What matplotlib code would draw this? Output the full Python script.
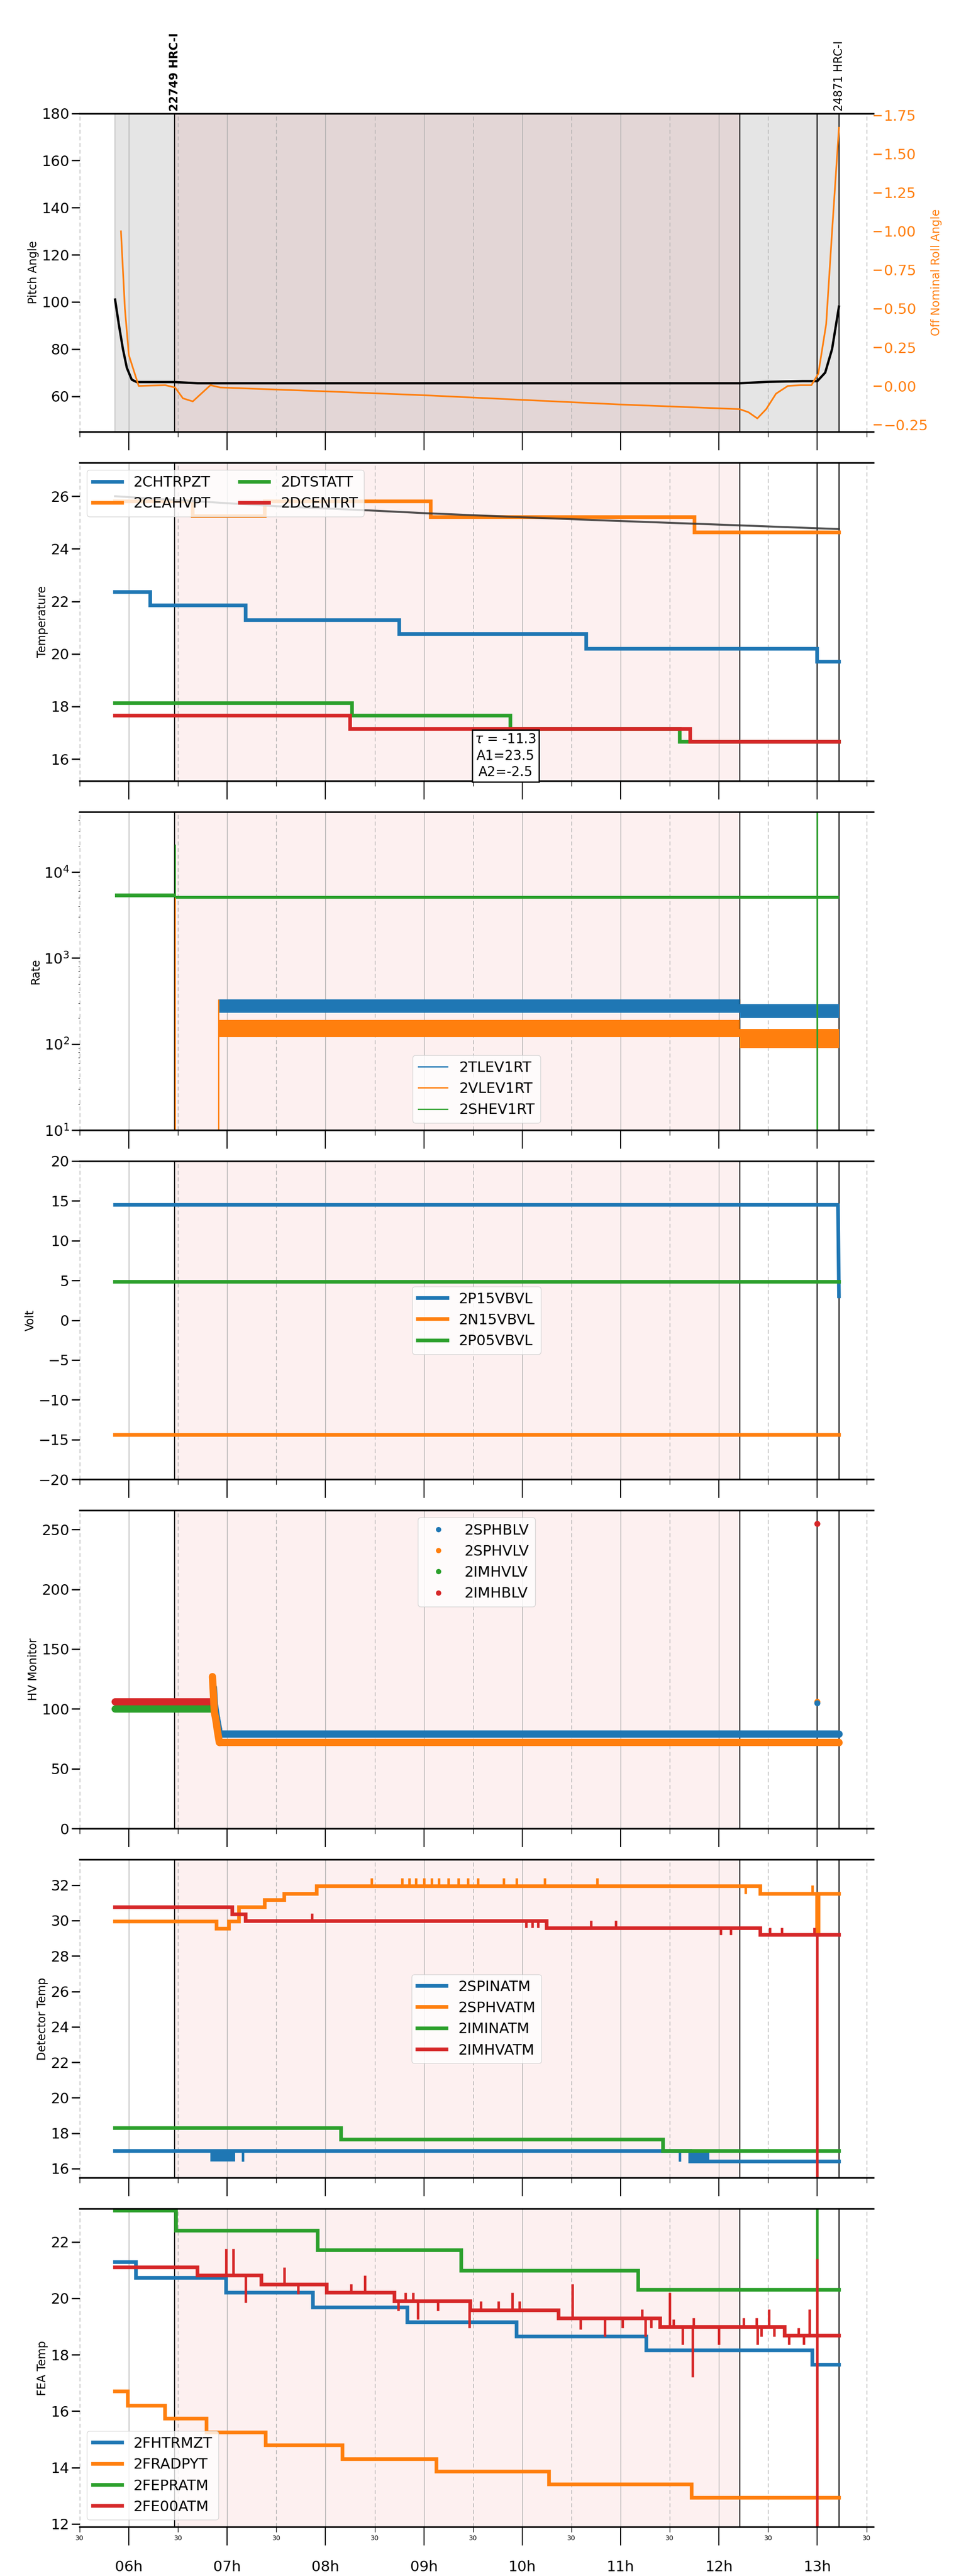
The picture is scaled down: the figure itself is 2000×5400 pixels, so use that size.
import numpy as np
import matplotlib
matplotlib.use("Agg")
import matplotlib.pyplot as plt
from matplotlib.lines import Line2D
from matplotlib.ticker import FixedLocator, FuncFormatter

NARROW = ["Liberation Sans Narrow", "DejaVu Sans"]
plt.rcParams["font.family"] = NARROW
C = {"b": "#1f77b4", "o": "#ff7f0e", "g": "#2ca02c", "r": "#d62728"}

# ---- event times (decimal hours on 2020-11-26) ----
T_START, T_END = 5.86, 13.22
OBS_START, OBS_END = 6.466, 12.21
EXTRA_LINES = [6.466, 12.21, 13.0, 13.22]
OBS_LABELS = [(6.466, "22749 HRC-I", "bold"), (13.22, "24871 HRC-I", "normal")]

# ---- panel 1: pitch / roll ----
pitch_t = [5.86, 5.90, 5.94, 5.98, 6.03, 6.08, 6.466, 6.7, 9.0, 12.21, 12.5, 12.85, 13.0, 13.08, 13.15, 13.22]
pitch_v = [101, 90, 80, 72, 67, 66, 66, 65.5, 65.5, 65.5, 66.1, 66.4, 66.4, 70, 80, 98]
roll_t = [5.92, 5.96, 6.0, 6.1, 6.37, 6.47, 6.55, 6.65, 6.83, 6.93, 8.0, 9.0, 10.0, 11.0, 12.21, 12.30, 12.39, 12.48, 12.58, 12.70, 12.83, 12.94, 13.01, 13.09, 13.15, 13.22]
roll_v = [1.0, 0.5, 0.2, 0.0, 0.005, -0.01, -0.08, -0.10, 0.005, -0.01, -0.035, -0.06, -0.09, -0.12, -0.15, -0.17, -0.21, -0.15, -0.05, 0.0, 0.005, 0.005, 0.08, 0.4, 1.0, 1.67]

# ---- panel 2: temperatures (step series: value holds until next time) ----
fit_t = [5.86, 6.5, 7.5, 8.5, 9.04, 10.0, 10.9, 12.0, 13.22]
fit_v = [26.0, 25.85, 25.62, 25.45, 25.35, 25.2, 25.07, 24.92, 24.75]
chtrpzt_t = [5.86, 6.22, 7.19, 8.75, 10.65, 13.0, 13.22]
chtrpzt_v = [22.35, 21.85, 21.28, 20.75, 20.2, 19.7, 19.7]
ceahvpt_t = [5.86, 6.65, 7.38, 9.07, 11.75, 13.22]
ceahvpt_v = [25.8, 25.25, 25.8, 25.2, 24.62, 24.62]
dtstatt_t = [5.86, 8.27, 9.88, 11.6, 13.22]
dtstatt_v = [18.13, 17.65, 17.15, 16.65, 16.65]
dcentrt_t = [5.86, 8.25, 8.28, 11.71, 13.22]
dcentrt_v = [17.65, 17.15, 17.15, 16.65, 16.65]
fit_text = "$\\tau$ = -11.3\nA1=23.5\nA2=-2.5"

# ---- panel 3: rates (band envelopes) ----
rate_seg_t = [6.91, 12.21, 13.22]
tlev_lo = [230, 200]
tlev_hi = [330, 290]
vlev_lo = [120, 90]
vlev_hi = [190, 150]
shev_seg_t = [5.86, 6.466, 13.22]
shev_lo = [5100, 4900]
shev_hi = [5600, 5300]
shev_spike = (6.47, 21000)
vlev_spike = (6.47, 5000)

# ---- panel 4: voltages ----
volt_t = [5.86, 13.21, 13.22]
p15_v = [14.5, 14.5, 3.0]
n15_v = [-14.4, -14.4, -14.4]
p05_v = [4.8, 4.8, 4.8]

# ---- panel 5: HV monitor ----
imhblv_t = [5.86, 6.86]; imhblv_v = [106, 106]
imhvlv_t = [5.86, 6.86]; imhvlv_v = [100, 100]
sphblv_t = [6.86, 6.87, 6.89, 6.91, 6.92, 13.22]; sphblv_v = [118, 104, 93, 84, 79, 79]
sphvlv_t = [6.85, 6.87, 6.88, 6.89, 6.90, 6.91, 6.92, 13.22]; sphvlv_v = [127, 97, 93, 88, 82, 77, 72, 72]
hv_late = [(13.0, 255, "r"), (13.0, 106, "o"), (13.0, 105, "b")]

# ---- panel 6: detector temps ----
spinatm_t = [5.86, 11.71, 13.22]; spinatm_v = [17.0, 16.4, 16.4]
spinatm_blocks = [(6.83, 7.08), (11.7, 11.9)]
spinatm_spikes = [(7.16, 16.4), (11.6, 16.4)]
sphvatm_t = [5.86, 6.89, 7.02, 7.12, 7.38, 7.58, 7.91, 12.42, 13.0, 13.01, 13.22]
sphvatm_v = [29.95, 29.55, 29.95, 30.75, 31.15, 31.5, 31.95, 31.5, 29.2, 31.5, 31.5]
sphvatm_spikes = [(8.47, 32.4), (8.78, 32.4), (8.85, 32.4), (8.92, 32.4), (9.0, 32.4), (9.08, 32.4),
                  (9.15, 32.4), (9.25, 32.4), (9.35, 32.4), (9.45, 32.4), (9.55, 32.4), (9.81, 32.4),
                  (9.94, 32.4), (10.23, 32.4), (10.76, 32.4), (12.27, 31.5), (12.95, 32.0)]
iminatm_t = [5.86, 8.16, 11.43, 13.22]; iminatm_v = [18.3, 17.65, 17.0, 17.0]
imhvatm_t = [5.86, 7.05, 7.19, 10.25, 12.42, 13.22]; imhvatm_v = [30.75, 30.35, 29.98, 29.58, 29.2, 29.2]
imhvatm_spikes = [(7.86, 30.4), (10.04, 29.6), (10.1, 29.6), (10.16, 29.6), (10.7, 30.0), (10.95, 30.0),
                  (12.02, 29.2), (12.12, 29.2), (12.52, 29.6), (12.64, 29.6), (12.97, 29.6), (13.0, 15.0)]

# ---- panel 7: FEA temps ----
fhtrmzt_t = [5.86, 6.07, 6.99, 7.87, 8.83, 9.94, 11.26, 12.95, 13.22]
fhtrmzt_v = [21.28, 20.72, 20.2, 19.68, 19.15, 18.65, 18.15, 17.65, 17.65]
fradpyt_t = [5.86, 5.99, 6.37, 6.79, 7.39, 8.17, 9.13, 10.27, 11.72, 13.22]
fradpyt_v = [16.7, 16.2, 15.73, 15.25, 14.78, 14.3, 13.85, 13.4, 12.93, 12.93]
fepratm_t = [5.86, 6.48, 7.92, 9.38, 11.18, 13.22]
fepratm_v = [23.1, 22.4, 21.7, 20.98, 20.3, 20.3]
fepratm_spikes = [(13.0, 23.5)]
fe00atm_t = [5.86, 6.70, 7.35, 8.01, 8.70, 9.47, 10.37, 11.40, 12.67, 13.22]
fe00atm_v = [21.1, 20.8, 20.48, 20.2, 19.9, 19.58, 19.28, 18.98, 18.68, 18.68]
fe00atm_spikes = [(6.99, 21.75), (7.06, 21.75), (7.19, 19.85), (7.58, 21.1), (7.72, 20.15), (8.26, 20.5),
                  (8.40, 20.8), (8.74, 19.55), (8.81, 20.2), (8.89, 20.2), (8.94, 19.25), (9.14, 19.55),
                  (9.46, 18.95), (9.58, 19.9), (9.76, 19.9), (9.90, 20.2), (9.97, 19.9), (10.51, 20.5),
                  (10.59, 18.9), (10.84, 18.65), (11.02, 18.95), (11.22, 19.6), (11.25, 18.65), (11.31, 18.95),
                  (11.50, 20.2), (11.54, 19.25), (11.63, 18.35), (11.73, 17.2), (11.74, 19.3), (12.0, 18.35),
                  (12.25, 19.3), (12.38, 19.3), (12.39, 18.35), (12.43, 18.65), (12.51, 19.6), (12.56, 18.65),
                  (12.71, 18.35), (12.81, 18.95), (12.86, 18.35), (12.92, 19.6), (13.0, 21.4), (13.0, 11.0)]

XMIN, XMAX = 5.5, 13.57


def step_level(ts, vs, t):
    i = np.searchsorted(ts, t, side="right") - 1
    return vs[max(i, 0)]


def step(ax, ts, vs, color, label=None, lw=5.5, spikes=()):
    ax.step(ts, vs, where="post", color=color, lw=lw, label=label, solid_joinstyle="miter")
    for t, v in spikes:
        ax.vlines(t, step_level(ts, vs, t), v, color=color, lw=lw * 0.7)


def decorate(ax, pink="#fdf0f0"):
    ax.set_xlim(XMIN, XMAX)
    ax.axvspan(OBS_START, OBS_END, color=pink, zorder=0)
    for h in range(6, 14):
        ax.axvline(h, color="#aaaaaa", lw=1.0, zorder=0.5)
    for h in np.arange(5.5, 14, 1.0):
        ax.axvline(h, color="#aaaaaa", lw=1.0, ls=(0, (6, 4)), zorder=0.5)
    for t in EXTRA_LINES:
        ax.axvline(t, color="black", lw=1.6, zorder=0.6)
    ax.xaxis.set_major_locator(FixedLocator(range(6, 14)))
    ax.xaxis.set_minor_locator(FixedLocator(np.arange(5.5, 14, 1.0)))
    ax.tick_params(axis="x", which="major", length=28, width=1.5, pad=22, labelsize=22)
    ax.tick_params(axis="x", which="minor", length=8, width=1.0, pad=4, labelsize=10)
    ax.tick_params(axis="y", which="major", length=12, width=2, labelsize=22)
    ax.xaxis.set_major_formatter(FuncFormatter(lambda v, _: f"{int(round(v)):02d}h"))
    ax.xaxis.set_minor_formatter(FuncFormatter(lambda v, _: "30"))
    ax.tick_params(axis="x", which="both", labelbottom=False)
    for s in ("left", "right"):
        ax.spines[s].set_visible(False)
    for s in ("top", "bottom"):
        ax.spines[s].set_linewidth(2.5)


def ylabel(ax, text):
    ax.set_ylabel(text, family="DejaVu Sans", fontsize=17)


fig, axes = plt.subplots(7, 1, figsize=(20, 54), dpi=100)
fig.subplots_adjust(left=0.0835, right=0.9155, top=0.956, bottom=0.019, hspace=0.0975)

# panel 1
ax = axes[0]
ax.axvspan(T_START, T_END, color="#e5e5e5", zorder=0)
decorate(ax, pink="#e3d6d6")
ax.axvline(T_START, color="#c8c8c8", lw=1.5, zorder=0.6)
ax.plot(pitch_t, pitch_v, color="black", lw=3.5)
ax.set_ylim(45, 180)
ax.set_yticks(range(60, 181, 20))
ylabel(ax, "Pitch Angle")
ax2 = ax.twinx()
ax2.plot(roll_t, roll_v, color=C["o"], lw=2.5)
ax2.set_ylim(-0.295, 1.763)
ax2.set_yticks(np.arange(-0.25, 1.76, 0.25))
ax2.yaxis.set_major_formatter(FuncFormatter(lambda v, _: f"{v:.2f}".replace("-", "\u2212")))
ax2.tick_params(axis="y", colors=C["o"], length=12, width=2, labelsize=22)
ax2.set_ylabel("Off Nominal Roll Angle", family="DejaVu Sans", fontsize=17, color=C["o"])
for s in ("left", "right", "top", "bottom"):
    ax2.spines[s].set_visible(False)
for t, txt, w in OBS_LABELS:
    ax.text(t, 181, txt, rotation=90, ha="center", va="bottom", family="DejaVu Sans",
            fontsize=17, fontweight=w, clip_on=False)

# panel 2
ax = axes[1]
decorate(ax)
step(ax, chtrpzt_t, chtrpzt_v, C["b"], "2CHTRPZT")
step(ax, ceahvpt_t, ceahvpt_v, C["o"], "2CEAHVPT")
step(ax, dtstatt_t, dtstatt_v, C["g"], "2DTSTATT")
step(ax, dcentrt_t, dcentrt_v, C["r"], "2DCENTRT")
ax.plot(fit_t, fit_v, color="#333333", lw=3, alpha=0.85)
ax.set_ylim(15.17, 27.28)
ax.set_yticks(range(16, 27, 2))
ylabel(ax, "Temperature")
ax.legend(loc="upper left", ncol=2, fontsize=22, handlelength=2)
ax.text(9.83, 17.0, fit_text, ha="center", va="top", fontsize=20, linespacing=1.3,
        bbox=dict(boxstyle="square,pad=0.2", fc="white", ec="black", lw=2), clip_on=False, zorder=10)

# panel 3
ax = axes[2]
decorate(ax)
ax.set_yscale("log")
ax.fill_between(rate_seg_t, tlev_lo + [tlev_lo[-1]], tlev_hi + [tlev_hi[-1]], step="post", color=C["b"], lw=0)
ax.fill_between(rate_seg_t, vlev_lo + [vlev_lo[-1]], vlev_hi + [vlev_hi[-1]], step="post", color=C["o"], lw=0)
ax.fill_between(shev_seg_t, shev_lo + [shev_lo[-1]], shev_hi + [shev_hi[-1]], step="post", color=C["g"], lw=0)
ax.vlines(vlev_spike[0], 10, vlev_spike[1], color=C["o"], lw=2)
ax.vlines(shev_spike[0], shev_lo[0], shev_spike[1], color=C["g"], lw=2)
ax.vlines(rate_seg_t[0], 10, tlev_hi[0], color=C["o"], lw=2)
ax.vlines(13.0, 10, 6e4, color=C["g"], lw=2.5)
ax.set_ylim(10, 5e4)
ylabel(ax, "Rate")
handles = [Line2D([], [], color=C[k], lw=2) for k in "bog"]
ax.legend(handles, ["2TLEV1RT", "2VLEV1RT", "2SHEV1RT"], loc="lower center", fontsize=22,
          bbox_to_anchor=(0.5, 0.0))

# panel 4
ax = axes[3]
decorate(ax)
ax.plot(volt_t, p15_v, color=C["b"], lw=5.5, label="2P15VBVL")
ax.plot(volt_t, n15_v, color=C["o"], lw=5.5, label="2N15VBVL")
ax.plot(volt_t, p05_v, color=C["g"], lw=5.5, label="2P05VBVL")
ax.set_ylim(-20, 20)
ax.set_yticks(range(-20, 21, 5))
ylabel(ax, "Volt")
ax.legend(loc="center", fontsize=22)

# panel 5
ax = axes[4]
decorate(ax)
for ts, vs, c in [(imhblv_t, imhblv_v, "r"), (imhvlv_t, imhvlv_v, "g"),
                  (sphblv_t, sphblv_v, "b"), (sphvlv_t, sphvlv_v, "o")]:
    ax.plot(ts, vs, color=C[c], lw=11, marker="o", ms=9, solid_capstyle="round")
for t, v, c in hv_late:
    ax.plot([t], [v], "o", color=C[c], ms=8)
ax.set_ylim(0, 266)
ylabel(ax, "HV Monitor")
handles = [Line2D([], [], color=C[k], marker="o", ls="", ms=7) for k in "bogr"]
ax.legend(handles, ["2SPHBLV", "2SPHVLV", "2IMHVLV", "2IMHBLV"], loc="upper center", fontsize=22)

# panel 6
ax = axes[5]
decorate(ax)
step(ax, spinatm_t, spinatm_v, C["b"], "2SPINATM", spikes=spinatm_spikes)
for a, b in spinatm_blocks:
    ax.fill_between([a, b], 16.4, 17.0, color=C["b"], lw=0)
step(ax, sphvatm_t, sphvatm_v, C["o"], "2SPHVATM", spikes=sphvatm_spikes)
step(ax, iminatm_t, iminatm_v, C["g"], "2IMINATM")
step(ax, imhvatm_t, imhvatm_v, C["r"], "2IMHVATM", spikes=imhvatm_spikes)
ax.set_ylim(15.48, 33.44)
ax.set_yticks(range(16, 33, 2))
ylabel(ax, "Detector Temp")
ax.legend(loc="center", fontsize=22)

# panel 7
ax = axes[6]
decorate(ax)
step(ax, fhtrmzt_t, fhtrmzt_v, C["b"], "2FHTRMZT")
step(ax, fradpyt_t, fradpyt_v, C["o"], "2FRADPYT")
step(ax, fepratm_t, fepratm_v, C["g"], "2FEPRATM", spikes=fepratm_spikes)
step(ax, fe00atm_t, fe00atm_v, C["r"], "2FE00ATM", spikes=fe00atm_spikes)
ax.set_ylim(11.89, 23.17)
ax.set_yticks(range(12, 23, 2))
ylabel(ax, "FEA Temp")
ax.legend(loc="lower left", fontsize=22)
ax.tick_params(axis="x", which="both", labelbottom=True)
ax.set_xlabel("2020-11-26 (331)", fontsize=26)

fig.savefig("out.png", dpi=100)
